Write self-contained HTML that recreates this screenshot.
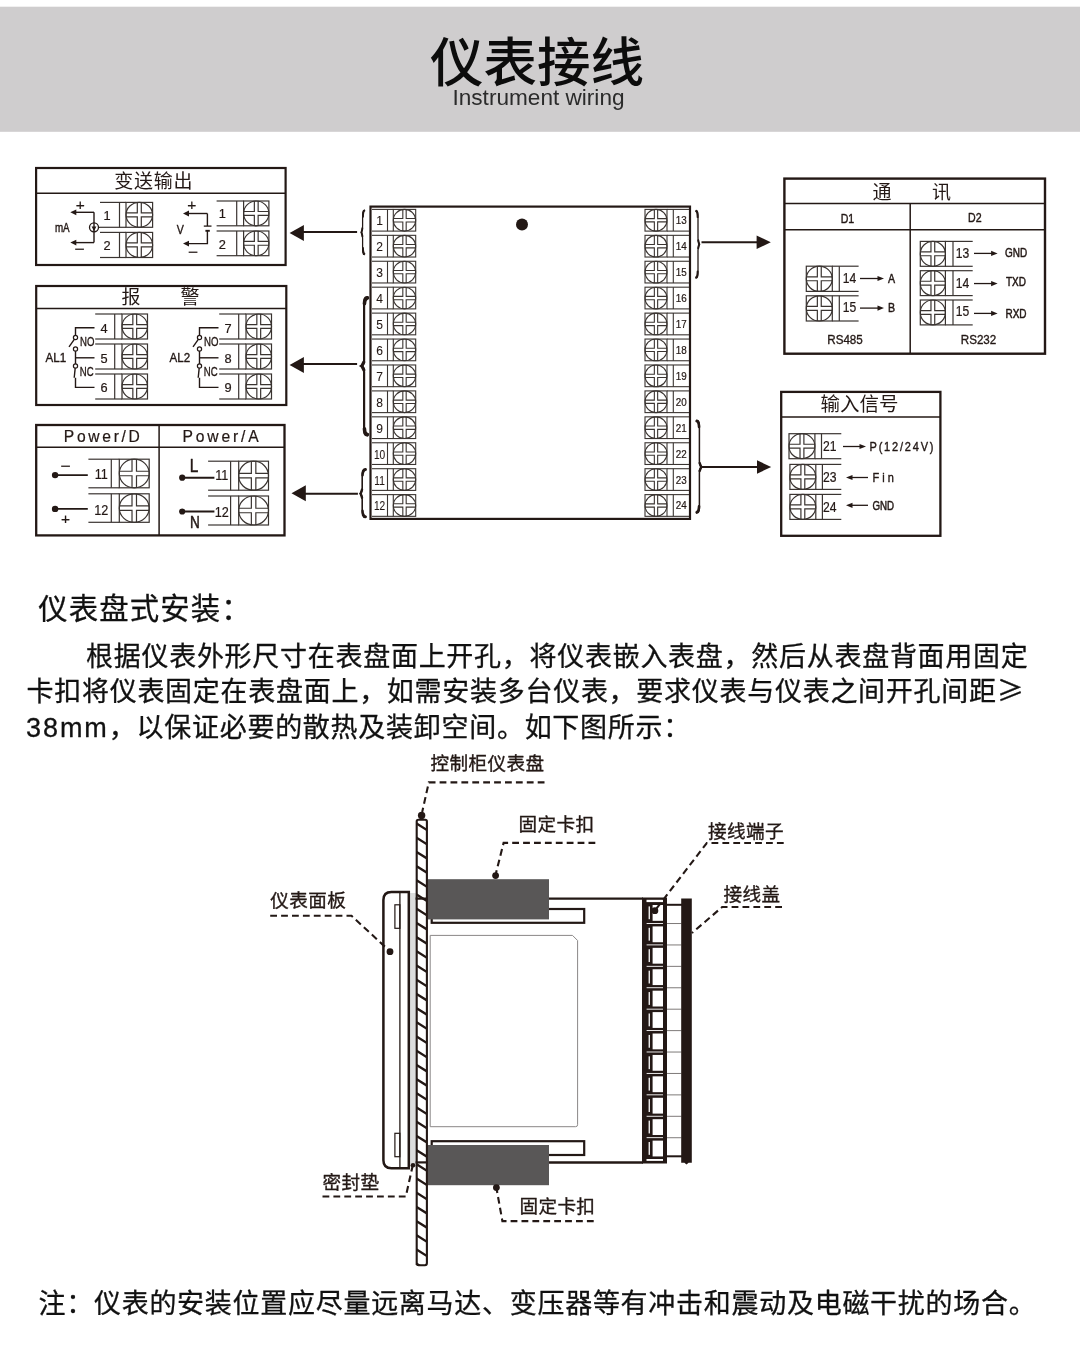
<!DOCTYPE html>
<html lang="zh-CN">
<head>
<meta charset="utf-8">
<title>仪表接线 Instrument wiring</title>
<style>
html,body{margin:0;padding:0;background:#fff;}
body{width:1080px;height:1346px;overflow:hidden;font-family:"Liberation Sans","Noto Sans CJK SC",sans-serif;}
svg{display:block;position:absolute;left:0;top:0;will-change:transform;}
text{white-space:pre;}
.ge{font-family:"Noto Sans CJK SC",sans-serif;}
</style>
</head>
<body>
<svg width="1080" height="1346" viewBox="0 0 1080 1346">
<rect x="0" y="6.7" width="1080" height="125.1" fill="#cfcdce"/>
<text x="537.00" y="82.00" font-size="53.5" text-anchor="middle" font-weight="500" fill="#0c0c0c" font-family='"Liberation Sans", "Noto Sans CJK SC", sans-serif' >仪表接线</text>
<text x="538.50" y="104.60" font-size="22.6" text-anchor="middle" font-weight="400" fill="#2b2b2b" font-family='"Liberation Sans", "Noto Sans CJK SC", sans-serif' >Instrument wiring</text>
<rect x="36.10" y="168.00" width="249.50" height="97.00" stroke="#231815" stroke-width="2.2" fill="none" />
<line x1="36.10" y1="193.20" x2="285.60" y2="193.20" stroke="#231815" stroke-width="1.5" />
<text x="153.80" y="188.00" font-size="19" text-anchor="middle" font-weight="400" fill="#231815" font-family='"Liberation Sans", "Noto Sans CJK SC", sans-serif' letter-spacing="0.8" >变送输出</text>
<line x1="100.00" y1="202.40" x2="126.00" y2="202.40" stroke="#3a3431" stroke-width="1.2" />
<line x1="100.00" y1="227.30" x2="126.00" y2="227.30" stroke="#3a3431" stroke-width="1.2" />
<line x1="119.50" y1="202.40" x2="119.50" y2="227.30" stroke="#3a3431" stroke-width="1.2" />
<rect x="126.00" y="202.40" width="26.60" height="24.90" stroke="#3a3431" stroke-width="1.2" fill="none" />
<ellipse cx="139.30" cy="214.85" rx="13.30" ry="12.45" stroke="#3a3431" stroke-width="1.2" fill="none"/>
<path d="M137.31,202.40V212.85H126.00 M141.30,202.40V212.85H152.60 M137.31,227.30V216.84H126.00 M141.30,227.30V216.84H152.60" stroke="#3a3431" stroke-width="1.2" fill="none" />
<line x1="100.00" y1="232.40" x2="126.00" y2="232.40" stroke="#3a3431" stroke-width="1.2" />
<line x1="100.00" y1="257.50" x2="126.00" y2="257.50" stroke="#3a3431" stroke-width="1.2" />
<line x1="119.50" y1="232.40" x2="119.50" y2="257.50" stroke="#3a3431" stroke-width="1.2" />
<rect x="126.00" y="232.40" width="26.60" height="25.10" stroke="#3a3431" stroke-width="1.2" fill="none" />
<ellipse cx="139.30" cy="244.95" rx="13.30" ry="12.55" stroke="#3a3431" stroke-width="1.2" fill="none"/>
<path d="M137.31,232.40V242.96H126.00 M141.30,232.40V242.96H152.60 M137.31,257.50V246.95H126.00 M141.30,257.50V246.95H152.60" stroke="#3a3431" stroke-width="1.2" fill="none" />
<text x="107.00" y="219.60" font-size="12.8" text-anchor="middle" font-weight="400" fill="#231815" font-family='"Liberation Sans", "Noto Sans CJK SC", sans-serif' stroke="#231815" stroke-width="0.22" stroke-linejoin="round" >1</text>
<text x="107.00" y="250.30" font-size="12.8" text-anchor="middle" font-weight="400" fill="#231815" font-family='"Liberation Sans", "Noto Sans CJK SC", sans-serif' stroke="#231815" stroke-width="0.22" stroke-linejoin="round" >2</text>
<line x1="98.50" y1="227.30" x2="100.00" y2="227.30" stroke="#3a3431" stroke-width="1.2" />
<circle cx="94.00" cy="227.30" r="4.50" stroke="#231815" stroke-width="1.3" fill="none"/>
<path d="M94,212.3V242.6" stroke="#231815" stroke-width="1.4" fill="none" />
<path d="M94,212.3H75" stroke="#231815" stroke-width="1.4" fill="none" />
<polygon points="70.30,212.30 76.30,209.40 76.30,215.20" fill="#231815"/>
<path d="M94,242.6H75" stroke="#231815" stroke-width="1.4" fill="none" />
<polygon points="70.30,242.60 76.30,239.70 76.30,245.50" fill="#231815"/>
<polygon points="94,231.2 91.6,226.6 96.4,226.6" fill="#231815"/>
<text x="80.40" y="209.50" font-size="15.5" text-anchor="middle" font-weight="400" fill="#231815" font-family='"Liberation Sans", "Noto Sans CJK SC", sans-serif' stroke="#231815" stroke-width="0.22" stroke-linejoin="round" >+</text>
<text x="79.60" y="255.40" font-size="18" text-anchor="middle" font-weight="400" fill="#231815" font-family='"Liberation Sans", "Noto Sans CJK SC", sans-serif' >−</text>
<text transform="translate(62.30,231.80) scale(0.82,1)" font-size="12" text-anchor="middle" font-weight="400" fill="#231815" font-family='"Liberation Sans", "Noto Sans CJK SC", sans-serif' stroke="#231815" stroke-width="0.4" stroke-linejoin="round" >mA</text>
<line x1="216.60" y1="201.00" x2="243.60" y2="201.00" stroke="#3a3431" stroke-width="1.2" />
<line x1="216.60" y1="225.80" x2="243.60" y2="225.80" stroke="#3a3431" stroke-width="1.2" />
<line x1="236.70" y1="201.00" x2="236.70" y2="225.80" stroke="#3a3431" stroke-width="1.2" />
<rect x="243.60" y="201.00" width="25.30" height="24.80" stroke="#3a3431" stroke-width="1.2" fill="none" />
<ellipse cx="256.25" cy="213.40" rx="12.65" ry="12.40" stroke="#3a3431" stroke-width="1.2" fill="none"/>
<path d="M254.35,201.00V211.50H243.60 M258.15,201.00V211.50H268.90 M254.35,225.80V215.30H243.60 M258.15,225.80V215.30H268.90" stroke="#3a3431" stroke-width="1.2" fill="none" />
<line x1="216.60" y1="231.00" x2="243.60" y2="231.00" stroke="#3a3431" stroke-width="1.2" />
<line x1="216.60" y1="255.70" x2="243.60" y2="255.70" stroke="#3a3431" stroke-width="1.2" />
<line x1="236.70" y1="231.00" x2="236.70" y2="255.70" stroke="#3a3431" stroke-width="1.2" />
<rect x="243.60" y="231.00" width="25.30" height="24.70" stroke="#3a3431" stroke-width="1.2" fill="none" />
<ellipse cx="256.25" cy="243.35" rx="12.65" ry="12.35" stroke="#3a3431" stroke-width="1.2" fill="none"/>
<path d="M254.35,231.00V241.45H243.60 M258.15,231.00V241.45H268.90 M254.35,255.70V245.25H243.60 M258.15,255.70V245.25H268.90" stroke="#3a3431" stroke-width="1.2" fill="none" />
<text x="222.30" y="217.80" font-size="12.8" text-anchor="middle" font-weight="400" fill="#231815" font-family='"Liberation Sans", "Noto Sans CJK SC", sans-serif' stroke="#231815" stroke-width="0.22" stroke-linejoin="round" >1</text>
<text x="222.30" y="248.90" font-size="12.8" text-anchor="middle" font-weight="400" fill="#231815" font-family='"Liberation Sans", "Noto Sans CJK SC", sans-serif' stroke="#231815" stroke-width="0.22" stroke-linejoin="round" >2</text>
<path d="M207.4,213.5V226" stroke="#231815" stroke-width="1.4" fill="none" />
<path d="M207.4,213.5H188" stroke="#231815" stroke-width="1.4" fill="none" />
<polygon points="183.00,213.50 189.00,210.60 189.00,216.40" fill="#231815"/>
<line x1="203.80" y1="226.10" x2="211.50" y2="226.10" stroke="#231815" stroke-width="1.3" />
<line x1="205.40" y1="230.80" x2="209.80" y2="230.80" stroke="#231815" stroke-width="1.9" />
<path d="M207.4,231V243.6H188" stroke="#231815" stroke-width="1.4" fill="none" />
<polygon points="183.00,243.60 189.00,240.70 189.00,246.50" fill="#231815"/>
<text x="191.80" y="210.30" font-size="15.5" text-anchor="middle" font-weight="400" fill="#231815" font-family='"Liberation Sans", "Noto Sans CJK SC", sans-serif' stroke="#231815" stroke-width="0.22" stroke-linejoin="round" >+</text>
<text x="193.00" y="257.80" font-size="18" text-anchor="middle" font-weight="400" fill="#231815" font-family='"Liberation Sans", "Noto Sans CJK SC", sans-serif' >−</text>
<text transform="translate(180.20,233.50) scale(0.85,1)" font-size="12.5" text-anchor="middle" font-weight="400" fill="#231815" font-family='"Liberation Sans", "Noto Sans CJK SC", sans-serif' stroke="#231815" stroke-width="0.4" stroke-linejoin="round" >V</text>
<rect x="36.20" y="286.00" width="250.10" height="119.00" stroke="#231815" stroke-width="2.2" fill="none" />
<line x1="36.20" y1="308.40" x2="286.30" y2="308.40" stroke="#231815" stroke-width="1.5" />
<text x="131.00" y="304.00" font-size="19" text-anchor="middle" font-weight="400" fill="#231815" font-family='"Liberation Sans", "Noto Sans CJK SC", sans-serif' >报</text>
<text x="190.00" y="304.00" font-size="19" text-anchor="middle" font-weight="400" fill="#231815" font-family='"Liberation Sans", "Noto Sans CJK SC", sans-serif' >警</text>
<line x1="95.20" y1="314.00" x2="122.00" y2="314.00" stroke="#3a3431" stroke-width="1.2" />
<line x1="95.20" y1="339.00" x2="122.00" y2="339.00" stroke="#3a3431" stroke-width="1.2" />
<line x1="114.70" y1="314.00" x2="114.70" y2="339.00" stroke="#3a3431" stroke-width="1.2" />
<rect x="122.00" y="314.00" width="25.50" height="25.00" stroke="#3a3431" stroke-width="1.2" fill="none" />
<ellipse cx="134.75" cy="326.50" rx="12.75" ry="12.50" stroke="#3a3431" stroke-width="1.2" fill="none"/>
<path d="M132.84,314.00V324.59H122.00 M136.66,314.00V324.59H147.50 M132.84,339.00V328.41H122.00 M136.66,339.00V328.41H147.50" stroke="#3a3431" stroke-width="1.2" fill="none" />
<line x1="95.20" y1="344.00" x2="122.00" y2="344.00" stroke="#3a3431" stroke-width="1.2" />
<line x1="95.20" y1="369.00" x2="122.00" y2="369.00" stroke="#3a3431" stroke-width="1.2" />
<line x1="114.70" y1="344.00" x2="114.70" y2="369.00" stroke="#3a3431" stroke-width="1.2" />
<rect x="122.00" y="344.00" width="25.50" height="25.00" stroke="#3a3431" stroke-width="1.2" fill="none" />
<ellipse cx="134.75" cy="356.50" rx="12.75" ry="12.50" stroke="#3a3431" stroke-width="1.2" fill="none"/>
<path d="M132.84,344.00V354.59H122.00 M136.66,344.00V354.59H147.50 M132.84,369.00V358.41H122.00 M136.66,369.00V358.41H147.50" stroke="#3a3431" stroke-width="1.2" fill="none" />
<line x1="95.20" y1="374.00" x2="122.00" y2="374.00" stroke="#3a3431" stroke-width="1.2" />
<line x1="95.20" y1="399.00" x2="122.00" y2="399.00" stroke="#3a3431" stroke-width="1.2" />
<line x1="114.70" y1="374.00" x2="114.70" y2="399.00" stroke="#3a3431" stroke-width="1.2" />
<rect x="122.00" y="374.00" width="25.50" height="25.00" stroke="#3a3431" stroke-width="1.2" fill="none" />
<ellipse cx="134.75" cy="386.50" rx="12.75" ry="12.50" stroke="#3a3431" stroke-width="1.2" fill="none"/>
<path d="M132.84,374.00V384.59H122.00 M136.66,374.00V384.59H147.50 M132.84,399.00V388.41H122.00 M136.66,399.00V388.41H147.50" stroke="#3a3431" stroke-width="1.2" fill="none" />
<text x="104.00" y="332.60" font-size="12.8" text-anchor="middle" font-weight="400" fill="#231815" font-family='"Liberation Sans", "Noto Sans CJK SC", sans-serif' stroke="#231815" stroke-width="0.22" stroke-linejoin="round" >4</text>
<text x="104.00" y="362.60" font-size="12.8" text-anchor="middle" font-weight="400" fill="#231815" font-family='"Liberation Sans", "Noto Sans CJK SC", sans-serif' stroke="#231815" stroke-width="0.22" stroke-linejoin="round" >5</text>
<text x="104.00" y="391.90" font-size="12.8" text-anchor="middle" font-weight="400" fill="#231815" font-family='"Liberation Sans", "Noto Sans CJK SC", sans-serif' stroke="#231815" stroke-width="0.22" stroke-linejoin="round" >6</text>
<path d="M94.5,327.8H75.5V335.4" stroke="#231815" stroke-width="1.4" fill="none" />
<circle cx="75.50" cy="337.50" r="2.10" stroke="#231815" stroke-width="1.2" fill="none"/>
<path d="M74.5,339.2L69,346.8" stroke="#231815" stroke-width="1.4" fill="none" />
<circle cx="75.50" cy="349.00" r="2.10" stroke="#231815" stroke-width="1.2" fill="none"/>
<path d="M75.5,351.1V363.9" stroke="#231815" stroke-width="1.4" fill="none" />
<path d="M75.5,357.8H94.5" stroke="#231815" stroke-width="1.4" fill="none" />
<circle cx="75.50" cy="366.00" r="2.10" stroke="#231815" stroke-width="1.2" fill="none"/>
<path d="M75.2,368.1L74.2,377.8" stroke="#231815" stroke-width="1.4" fill="none" />
<path d="M75.5,377.8V387.4H94.5" stroke="#231815" stroke-width="1.4" fill="none" />
<text transform="translate(87.20,345.60) scale(0.8,1)" font-size="12" text-anchor="middle" font-weight="400" fill="#231815" font-family='"Liberation Sans", "Noto Sans CJK SC", sans-serif' stroke="#231815" stroke-width="0.35" stroke-linejoin="round" >NO</text>
<text transform="translate(86.70,376.20) scale(0.8,1)" font-size="12" text-anchor="middle" font-weight="400" fill="#231815" font-family='"Liberation Sans", "Noto Sans CJK SC", sans-serif' stroke="#231815" stroke-width="0.35" stroke-linejoin="round" >NC</text>
<text transform="translate(55.80,361.80) scale(0.86,1)" font-size="13.5" text-anchor="middle" font-weight="400" fill="#231815" font-family='"Liberation Sans", "Noto Sans CJK SC", sans-serif' stroke="#231815" stroke-width="0.4" stroke-linejoin="round" >AL1</text>
<line x1="219.20" y1="314.00" x2="246.00" y2="314.00" stroke="#3a3431" stroke-width="1.2" />
<line x1="219.20" y1="339.00" x2="246.00" y2="339.00" stroke="#3a3431" stroke-width="1.2" />
<line x1="238.70" y1="314.00" x2="238.70" y2="339.00" stroke="#3a3431" stroke-width="1.2" />
<rect x="246.00" y="314.00" width="25.50" height="25.00" stroke="#3a3431" stroke-width="1.2" fill="none" />
<ellipse cx="258.75" cy="326.50" rx="12.75" ry="12.50" stroke="#3a3431" stroke-width="1.2" fill="none"/>
<path d="M256.84,314.00V324.59H246.00 M260.66,314.00V324.59H271.50 M256.84,339.00V328.41H246.00 M260.66,339.00V328.41H271.50" stroke="#3a3431" stroke-width="1.2" fill="none" />
<line x1="219.20" y1="344.00" x2="246.00" y2="344.00" stroke="#3a3431" stroke-width="1.2" />
<line x1="219.20" y1="369.00" x2="246.00" y2="369.00" stroke="#3a3431" stroke-width="1.2" />
<line x1="238.70" y1="344.00" x2="238.70" y2="369.00" stroke="#3a3431" stroke-width="1.2" />
<rect x="246.00" y="344.00" width="25.50" height="25.00" stroke="#3a3431" stroke-width="1.2" fill="none" />
<ellipse cx="258.75" cy="356.50" rx="12.75" ry="12.50" stroke="#3a3431" stroke-width="1.2" fill="none"/>
<path d="M256.84,344.00V354.59H246.00 M260.66,344.00V354.59H271.50 M256.84,369.00V358.41H246.00 M260.66,369.00V358.41H271.50" stroke="#3a3431" stroke-width="1.2" fill="none" />
<line x1="219.20" y1="374.00" x2="246.00" y2="374.00" stroke="#3a3431" stroke-width="1.2" />
<line x1="219.20" y1="399.00" x2="246.00" y2="399.00" stroke="#3a3431" stroke-width="1.2" />
<line x1="238.70" y1="374.00" x2="238.70" y2="399.00" stroke="#3a3431" stroke-width="1.2" />
<rect x="246.00" y="374.00" width="25.50" height="25.00" stroke="#3a3431" stroke-width="1.2" fill="none" />
<ellipse cx="258.75" cy="386.50" rx="12.75" ry="12.50" stroke="#3a3431" stroke-width="1.2" fill="none"/>
<path d="M256.84,374.00V384.59H246.00 M260.66,374.00V384.59H271.50 M256.84,399.00V388.41H246.00 M260.66,399.00V388.41H271.50" stroke="#3a3431" stroke-width="1.2" fill="none" />
<text x="228.00" y="332.60" font-size="12.8" text-anchor="middle" font-weight="400" fill="#231815" font-family='"Liberation Sans", "Noto Sans CJK SC", sans-serif' stroke="#231815" stroke-width="0.22" stroke-linejoin="round" >7</text>
<text x="228.00" y="362.60" font-size="12.8" text-anchor="middle" font-weight="400" fill="#231815" font-family='"Liberation Sans", "Noto Sans CJK SC", sans-serif' stroke="#231815" stroke-width="0.22" stroke-linejoin="round" >8</text>
<text x="228.00" y="391.90" font-size="12.8" text-anchor="middle" font-weight="400" fill="#231815" font-family='"Liberation Sans", "Noto Sans CJK SC", sans-serif' stroke="#231815" stroke-width="0.22" stroke-linejoin="round" >9</text>
<path d="M218.5,327.8H199.5V335.4" stroke="#231815" stroke-width="1.4" fill="none" />
<circle cx="199.50" cy="337.50" r="2.10" stroke="#231815" stroke-width="1.2" fill="none"/>
<path d="M198.5,339.2L193,346.8" stroke="#231815" stroke-width="1.4" fill="none" />
<circle cx="199.50" cy="349.00" r="2.10" stroke="#231815" stroke-width="1.2" fill="none"/>
<path d="M199.5,351.1V363.9" stroke="#231815" stroke-width="1.4" fill="none" />
<path d="M199.5,357.8H218.5" stroke="#231815" stroke-width="1.4" fill="none" />
<circle cx="199.50" cy="366.00" r="2.10" stroke="#231815" stroke-width="1.2" fill="none"/>
<path d="M199.2,368.1L198.2,377.8" stroke="#231815" stroke-width="1.4" fill="none" />
<path d="M199.5,377.8V387.4H218.5" stroke="#231815" stroke-width="1.4" fill="none" />
<text transform="translate(211.20,345.60) scale(0.8,1)" font-size="12" text-anchor="middle" font-weight="400" fill="#231815" font-family='"Liberation Sans", "Noto Sans CJK SC", sans-serif' stroke="#231815" stroke-width="0.35" stroke-linejoin="round" >NO</text>
<text transform="translate(210.70,376.20) scale(0.8,1)" font-size="12" text-anchor="middle" font-weight="400" fill="#231815" font-family='"Liberation Sans", "Noto Sans CJK SC", sans-serif' stroke="#231815" stroke-width="0.35" stroke-linejoin="round" >NC</text>
<text transform="translate(179.80,361.80) scale(0.86,1)" font-size="13.5" text-anchor="middle" font-weight="400" fill="#231815" font-family='"Liberation Sans", "Noto Sans CJK SC", sans-serif' stroke="#231815" stroke-width="0.4" stroke-linejoin="round" >AL2</text>
<rect x="36.20" y="425.00" width="248.30" height="110.40" stroke="#231815" stroke-width="2.3" fill="none" />
<line x1="36.20" y1="447.30" x2="284.50" y2="447.30" stroke="#231815" stroke-width="1.5" />
<line x1="159.10" y1="425.00" x2="159.10" y2="535.40" stroke="#231815" stroke-width="1.5" />
<text transform="translate(103.20,442.20) scale(0.95,1)" font-size="16.5" text-anchor="middle" font-weight="400" fill="#231815" font-family='"Liberation Sans", "Noto Sans CJK SC", sans-serif' stroke="#231815" stroke-width="0.22" stroke-linejoin="round" letter-spacing="2.8" >Power/D</text>
<text transform="translate(222.00,442.20) scale(0.95,1)" font-size="16.5" text-anchor="middle" font-weight="400" fill="#231815" font-family='"Liberation Sans", "Noto Sans CJK SC", sans-serif' stroke="#231815" stroke-width="0.22" stroke-linejoin="round" letter-spacing="3.0" >Power/A</text>
<line x1="88.40" y1="459.20" x2="119.30" y2="459.20" stroke="#3a3431" stroke-width="1.2" />
<line x1="88.40" y1="487.80" x2="119.30" y2="487.80" stroke="#3a3431" stroke-width="1.2" />
<line x1="111.30" y1="459.20" x2="111.30" y2="487.80" stroke="#3a3431" stroke-width="1.2" />
<rect x="119.30" y="459.20" width="29.90" height="28.60" stroke="#3a3431" stroke-width="1.2" fill="none" />
<ellipse cx="134.25" cy="473.50" rx="14.95" ry="14.30" stroke="#3a3431" stroke-width="1.2" fill="none"/>
<path d="M132.01,459.20V471.26H119.30 M136.49,459.20V471.26H149.20 M132.01,487.80V475.74H119.30 M136.49,487.80V475.74H149.20" stroke="#3a3431" stroke-width="1.2" fill="none" />
<line x1="88.40" y1="493.80" x2="119.30" y2="493.80" stroke="#3a3431" stroke-width="1.2" />
<line x1="88.40" y1="522.30" x2="119.30" y2="522.30" stroke="#3a3431" stroke-width="1.2" />
<line x1="111.30" y1="493.80" x2="111.30" y2="522.30" stroke="#3a3431" stroke-width="1.2" />
<rect x="119.30" y="493.80" width="29.90" height="28.50" stroke="#3a3431" stroke-width="1.2" fill="none" />
<ellipse cx="134.25" cy="508.05" rx="14.95" ry="14.25" stroke="#3a3431" stroke-width="1.2" fill="none"/>
<path d="M132.01,493.80V505.81H119.30 M136.49,493.80V505.81H149.20 M132.01,522.30V510.29H119.30 M136.49,522.30V510.29H149.20" stroke="#3a3431" stroke-width="1.2" fill="none" />
<text transform="translate(101.30,479.00) scale(0.88,1)" font-size="14.4" text-anchor="middle" font-weight="400" fill="#231815" font-family='"Liberation Sans", "Noto Sans CJK SC", sans-serif' stroke="#231815" stroke-width="0.22" stroke-linejoin="round" >11</text>
<text transform="translate(101.30,515.10) scale(0.88,1)" font-size="14.4" text-anchor="middle" font-weight="400" fill="#231815" font-family='"Liberation Sans", "Noto Sans CJK SC", sans-serif' stroke="#231815" stroke-width="0.22" stroke-linejoin="round" >12</text>
<circle cx="55.10" cy="475.10" r="3.20" stroke="#231815" stroke-width="0" fill="#231815"/>
<line x1="55.00" y1="475.10" x2="87.80" y2="475.10" stroke="#231815" stroke-width="1.9" />
<circle cx="55.10" cy="508.90" r="3.20" stroke="#231815" stroke-width="0" fill="#231815"/>
<line x1="55.00" y1="508.90" x2="87.80" y2="508.90" stroke="#231815" stroke-width="1.9" />
<text x="65.50" y="471.80" font-size="18" text-anchor="middle" font-weight="400" fill="#231815" font-family='"Liberation Sans", "Noto Sans CJK SC", sans-serif' >−</text>
<text x="65.50" y="523.90" font-size="15.5" text-anchor="middle" font-weight="400" fill="#231815" font-family='"Liberation Sans", "Noto Sans CJK SC", sans-serif' stroke="#231815" stroke-width="0.22" stroke-linejoin="round" >+</text>
<line x1="208.10" y1="461.20" x2="238.70" y2="461.20" stroke="#3a3431" stroke-width="1.2" />
<line x1="208.10" y1="490.20" x2="238.70" y2="490.20" stroke="#3a3431" stroke-width="1.2" />
<line x1="230.60" y1="461.20" x2="230.60" y2="490.20" stroke="#3a3431" stroke-width="1.2" />
<rect x="238.70" y="461.20" width="29.80" height="29.00" stroke="#3a3431" stroke-width="1.2" fill="none" />
<ellipse cx="253.60" cy="475.70" rx="14.90" ry="14.50" stroke="#3a3431" stroke-width="1.2" fill="none"/>
<path d="M251.36,461.20V473.46H238.70 M255.84,461.20V473.46H268.50 M251.36,490.20V477.94H238.70 M255.84,490.20V477.94H268.50" stroke="#3a3431" stroke-width="1.2" fill="none" />
<line x1="208.10" y1="496.00" x2="238.70" y2="496.00" stroke="#3a3431" stroke-width="1.2" />
<line x1="208.10" y1="525.00" x2="238.70" y2="525.00" stroke="#3a3431" stroke-width="1.2" />
<line x1="230.60" y1="496.00" x2="230.60" y2="525.00" stroke="#3a3431" stroke-width="1.2" />
<rect x="238.70" y="496.00" width="29.80" height="29.00" stroke="#3a3431" stroke-width="1.2" fill="none" />
<ellipse cx="253.60" cy="510.50" rx="14.90" ry="14.50" stroke="#3a3431" stroke-width="1.2" fill="none"/>
<path d="M251.36,496.00V508.26H238.70 M255.84,496.00V508.26H268.50 M251.36,525.00V512.74H238.70 M255.84,525.00V512.74H268.50" stroke="#3a3431" stroke-width="1.2" fill="none" />
<text transform="translate(221.80,480.20) scale(0.88,1)" font-size="14.4" text-anchor="middle" font-weight="400" fill="#231815" font-family='"Liberation Sans", "Noto Sans CJK SC", sans-serif' stroke="#231815" stroke-width="0.22" stroke-linejoin="round" >11</text>
<text transform="translate(221.80,517.40) scale(0.88,1)" font-size="14.4" text-anchor="middle" font-weight="400" fill="#231815" font-family='"Liberation Sans", "Noto Sans CJK SC", sans-serif' stroke="#231815" stroke-width="0.22" stroke-linejoin="round" >12</text>
<circle cx="182.20" cy="477.70" r="3.10" stroke="#231815" stroke-width="0" fill="#231815"/>
<line x1="182.00" y1="477.70" x2="214.40" y2="477.70" stroke="#231815" stroke-width="1.9" />
<circle cx="182.20" cy="511.50" r="3.10" stroke="#231815" stroke-width="0" fill="#231815"/>
<line x1="182.00" y1="511.50" x2="214.40" y2="511.50" stroke="#231815" stroke-width="1.9" />
<text transform="translate(194.00,472.30) scale(0.88,1)" font-size="17.5" text-anchor="middle" font-weight="400" fill="#231815" font-family='"Liberation Sans", "Noto Sans CJK SC", sans-serif' stroke="#231815" stroke-width="0.5" stroke-linejoin="round" >L</text>
<text transform="translate(195.00,527.60) scale(0.8,1)" font-size="17" text-anchor="middle" font-weight="400" fill="#231815" font-family='"Liberation Sans", "Noto Sans CJK SC", sans-serif' stroke="#231815" stroke-width="0.5" stroke-linejoin="round" >N</text>
<rect x="370.50" y="206.60" width="319.50" height="312.30" stroke="#231815" stroke-width="2.2" fill="none" />
<circle cx="522.00" cy="224.60" r="6.00" stroke="#231815" stroke-width="0" fill="#231815"/>
<line x1="372.00" y1="209.40" x2="393.30" y2="209.40" stroke="#3a3431" stroke-width="1.1" />
<line x1="372.00" y1="231.10" x2="393.30" y2="231.10" stroke="#3a3431" stroke-width="1.1" />
<line x1="387.50" y1="209.40" x2="387.50" y2="231.10" stroke="#3a3431" stroke-width="1.1" />
<rect x="393.30" y="209.40" width="22.40" height="21.70" stroke="#3a3431" stroke-width="1.1" fill="none" />
<ellipse cx="404.50" cy="220.25" rx="11.20" ry="10.85" stroke="#3a3431" stroke-width="1.1" fill="none"/>
<path d="M402.82,209.40V218.57H393.30 M406.18,209.40V218.57H415.70 M402.82,231.10V221.93H393.30 M406.18,231.10V221.93H415.70" stroke="#3a3431" stroke-width="1.1" fill="none" />
<text transform="translate(379.60,225.20) scale(0.9,1)" font-size="13.4" text-anchor="middle" font-weight="400" fill="#231815" font-family='"Liberation Sans", "Noto Sans CJK SC", sans-serif' stroke="#231815" stroke-width="0.1" stroke-linejoin="round" >1</text>
<line x1="667.00" y1="209.40" x2="689.00" y2="209.40" stroke="#3a3431" stroke-width="1.1" />
<line x1="667.00" y1="231.10" x2="689.00" y2="231.10" stroke="#3a3431" stroke-width="1.1" />
<line x1="673.30" y1="209.40" x2="673.30" y2="231.10" stroke="#3a3431" stroke-width="1.1" />
<rect x="645.00" y="209.40" width="22.00" height="21.70" stroke="#3a3431" stroke-width="1.1" fill="none" />
<ellipse cx="656.00" cy="220.25" rx="11.00" ry="10.85" stroke="#3a3431" stroke-width="1.1" fill="none"/>
<path d="M654.35,209.40V218.60H645.00 M657.65,209.40V218.60H667.00 M654.35,231.10V221.90H645.00 M657.65,231.10V221.90H667.00" stroke="#3a3431" stroke-width="1.1" fill="none" />
<text transform="translate(681.30,224.20) scale(0.88,1)" font-size="11.2" text-anchor="middle" font-weight="400" fill="#231815" font-family='"Liberation Sans", "Noto Sans CJK SC", sans-serif' stroke="#231815" stroke-width="0.22" stroke-linejoin="round" >13</text>
<line x1="372.00" y1="235.33" x2="393.30" y2="235.33" stroke="#3a3431" stroke-width="1.1" />
<line x1="372.00" y1="257.03" x2="393.30" y2="257.03" stroke="#3a3431" stroke-width="1.1" />
<line x1="387.50" y1="235.33" x2="387.50" y2="257.03" stroke="#3a3431" stroke-width="1.1" />
<rect x="393.30" y="235.33" width="22.40" height="21.70" stroke="#3a3431" stroke-width="1.1" fill="none" />
<ellipse cx="404.50" cy="246.18" rx="11.20" ry="10.85" stroke="#3a3431" stroke-width="1.1" fill="none"/>
<path d="M402.82,235.33V244.50H393.30 M406.18,235.33V244.50H415.70 M402.82,257.03V247.86H393.30 M406.18,257.03V247.86H415.70" stroke="#3a3431" stroke-width="1.1" fill="none" />
<text transform="translate(379.60,251.13) scale(0.9,1)" font-size="13.4" text-anchor="middle" font-weight="400" fill="#231815" font-family='"Liberation Sans", "Noto Sans CJK SC", sans-serif' stroke="#231815" stroke-width="0.1" stroke-linejoin="round" >2</text>
<line x1="667.00" y1="235.33" x2="689.00" y2="235.33" stroke="#3a3431" stroke-width="1.1" />
<line x1="667.00" y1="257.03" x2="689.00" y2="257.03" stroke="#3a3431" stroke-width="1.1" />
<line x1="673.30" y1="235.33" x2="673.30" y2="257.03" stroke="#3a3431" stroke-width="1.1" />
<rect x="645.00" y="235.33" width="22.00" height="21.70" stroke="#3a3431" stroke-width="1.1" fill="none" />
<ellipse cx="656.00" cy="246.18" rx="11.00" ry="10.85" stroke="#3a3431" stroke-width="1.1" fill="none"/>
<path d="M654.35,235.33V244.53H645.00 M657.65,235.33V244.53H667.00 M654.35,257.03V247.83H645.00 M657.65,257.03V247.83H667.00" stroke="#3a3431" stroke-width="1.1" fill="none" />
<text transform="translate(681.30,250.13) scale(0.88,1)" font-size="11.2" text-anchor="middle" font-weight="400" fill="#231815" font-family='"Liberation Sans", "Noto Sans CJK SC", sans-serif' stroke="#231815" stroke-width="0.22" stroke-linejoin="round" >14</text>
<line x1="372.00" y1="261.26" x2="393.30" y2="261.26" stroke="#3a3431" stroke-width="1.1" />
<line x1="372.00" y1="282.96" x2="393.30" y2="282.96" stroke="#3a3431" stroke-width="1.1" />
<line x1="387.50" y1="261.26" x2="387.50" y2="282.96" stroke="#3a3431" stroke-width="1.1" />
<rect x="393.30" y="261.26" width="22.40" height="21.70" stroke="#3a3431" stroke-width="1.1" fill="none" />
<ellipse cx="404.50" cy="272.11" rx="11.20" ry="10.85" stroke="#3a3431" stroke-width="1.1" fill="none"/>
<path d="M402.82,261.26V270.43H393.30 M406.18,261.26V270.43H415.70 M402.82,282.96V273.79H393.30 M406.18,282.96V273.79H415.70" stroke="#3a3431" stroke-width="1.1" fill="none" />
<text transform="translate(379.60,277.06) scale(0.9,1)" font-size="13.4" text-anchor="middle" font-weight="400" fill="#231815" font-family='"Liberation Sans", "Noto Sans CJK SC", sans-serif' stroke="#231815" stroke-width="0.1" stroke-linejoin="round" >3</text>
<line x1="667.00" y1="261.26" x2="689.00" y2="261.26" stroke="#3a3431" stroke-width="1.1" />
<line x1="667.00" y1="282.96" x2="689.00" y2="282.96" stroke="#3a3431" stroke-width="1.1" />
<line x1="673.30" y1="261.26" x2="673.30" y2="282.96" stroke="#3a3431" stroke-width="1.1" />
<rect x="645.00" y="261.26" width="22.00" height="21.70" stroke="#3a3431" stroke-width="1.1" fill="none" />
<ellipse cx="656.00" cy="272.11" rx="11.00" ry="10.85" stroke="#3a3431" stroke-width="1.1" fill="none"/>
<path d="M654.35,261.26V270.46H645.00 M657.65,261.26V270.46H667.00 M654.35,282.96V273.76H645.00 M657.65,282.96V273.76H667.00" stroke="#3a3431" stroke-width="1.1" fill="none" />
<text transform="translate(681.30,276.06) scale(0.88,1)" font-size="11.2" text-anchor="middle" font-weight="400" fill="#231815" font-family='"Liberation Sans", "Noto Sans CJK SC", sans-serif' stroke="#231815" stroke-width="0.22" stroke-linejoin="round" >15</text>
<line x1="372.00" y1="287.19" x2="393.30" y2="287.19" stroke="#3a3431" stroke-width="1.1" />
<line x1="372.00" y1="308.89" x2="393.30" y2="308.89" stroke="#3a3431" stroke-width="1.1" />
<line x1="387.50" y1="287.19" x2="387.50" y2="308.89" stroke="#3a3431" stroke-width="1.1" />
<rect x="393.30" y="287.19" width="22.40" height="21.70" stroke="#3a3431" stroke-width="1.1" fill="none" />
<ellipse cx="404.50" cy="298.04" rx="11.20" ry="10.85" stroke="#3a3431" stroke-width="1.1" fill="none"/>
<path d="M402.82,287.19V296.36H393.30 M406.18,287.19V296.36H415.70 M402.82,308.89V299.72H393.30 M406.18,308.89V299.72H415.70" stroke="#3a3431" stroke-width="1.1" fill="none" />
<text transform="translate(379.60,302.99) scale(0.9,1)" font-size="13.4" text-anchor="middle" font-weight="400" fill="#231815" font-family='"Liberation Sans", "Noto Sans CJK SC", sans-serif' stroke="#231815" stroke-width="0.1" stroke-linejoin="round" >4</text>
<line x1="667.00" y1="287.19" x2="689.00" y2="287.19" stroke="#3a3431" stroke-width="1.1" />
<line x1="667.00" y1="308.89" x2="689.00" y2="308.89" stroke="#3a3431" stroke-width="1.1" />
<line x1="673.30" y1="287.19" x2="673.30" y2="308.89" stroke="#3a3431" stroke-width="1.1" />
<rect x="645.00" y="287.19" width="22.00" height="21.70" stroke="#3a3431" stroke-width="1.1" fill="none" />
<ellipse cx="656.00" cy="298.04" rx="11.00" ry="10.85" stroke="#3a3431" stroke-width="1.1" fill="none"/>
<path d="M654.35,287.19V296.39H645.00 M657.65,287.19V296.39H667.00 M654.35,308.89V299.69H645.00 M657.65,308.89V299.69H667.00" stroke="#3a3431" stroke-width="1.1" fill="none" />
<text transform="translate(681.30,301.99) scale(0.88,1)" font-size="11.2" text-anchor="middle" font-weight="400" fill="#231815" font-family='"Liberation Sans", "Noto Sans CJK SC", sans-serif' stroke="#231815" stroke-width="0.22" stroke-linejoin="round" >16</text>
<line x1="372.00" y1="313.12" x2="393.30" y2="313.12" stroke="#3a3431" stroke-width="1.1" />
<line x1="372.00" y1="334.82" x2="393.30" y2="334.82" stroke="#3a3431" stroke-width="1.1" />
<line x1="387.50" y1="313.12" x2="387.50" y2="334.82" stroke="#3a3431" stroke-width="1.1" />
<rect x="393.30" y="313.12" width="22.40" height="21.70" stroke="#3a3431" stroke-width="1.1" fill="none" />
<ellipse cx="404.50" cy="323.97" rx="11.20" ry="10.85" stroke="#3a3431" stroke-width="1.1" fill="none"/>
<path d="M402.82,313.12V322.29H393.30 M406.18,313.12V322.29H415.70 M402.82,334.82V325.65H393.30 M406.18,334.82V325.65H415.70" stroke="#3a3431" stroke-width="1.1" fill="none" />
<text transform="translate(379.60,328.92) scale(0.9,1)" font-size="13.4" text-anchor="middle" font-weight="400" fill="#231815" font-family='"Liberation Sans", "Noto Sans CJK SC", sans-serif' stroke="#231815" stroke-width="0.1" stroke-linejoin="round" >5</text>
<line x1="667.00" y1="313.12" x2="689.00" y2="313.12" stroke="#3a3431" stroke-width="1.1" />
<line x1="667.00" y1="334.82" x2="689.00" y2="334.82" stroke="#3a3431" stroke-width="1.1" />
<line x1="673.30" y1="313.12" x2="673.30" y2="334.82" stroke="#3a3431" stroke-width="1.1" />
<rect x="645.00" y="313.12" width="22.00" height="21.70" stroke="#3a3431" stroke-width="1.1" fill="none" />
<ellipse cx="656.00" cy="323.97" rx="11.00" ry="10.85" stroke="#3a3431" stroke-width="1.1" fill="none"/>
<path d="M654.35,313.12V322.32H645.00 M657.65,313.12V322.32H667.00 M654.35,334.82V325.62H645.00 M657.65,334.82V325.62H667.00" stroke="#3a3431" stroke-width="1.1" fill="none" />
<text transform="translate(681.30,327.92) scale(0.88,1)" font-size="11.2" text-anchor="middle" font-weight="400" fill="#231815" font-family='"Liberation Sans", "Noto Sans CJK SC", sans-serif' stroke="#231815" stroke-width="0.22" stroke-linejoin="round" >17</text>
<line x1="372.00" y1="339.05" x2="393.30" y2="339.05" stroke="#3a3431" stroke-width="1.1" />
<line x1="372.00" y1="360.75" x2="393.30" y2="360.75" stroke="#3a3431" stroke-width="1.1" />
<line x1="387.50" y1="339.05" x2="387.50" y2="360.75" stroke="#3a3431" stroke-width="1.1" />
<rect x="393.30" y="339.05" width="22.40" height="21.70" stroke="#3a3431" stroke-width="1.1" fill="none" />
<ellipse cx="404.50" cy="349.90" rx="11.20" ry="10.85" stroke="#3a3431" stroke-width="1.1" fill="none"/>
<path d="M402.82,339.05V348.22H393.30 M406.18,339.05V348.22H415.70 M402.82,360.75V351.58H393.30 M406.18,360.75V351.58H415.70" stroke="#3a3431" stroke-width="1.1" fill="none" />
<text transform="translate(379.60,354.85) scale(0.9,1)" font-size="13.4" text-anchor="middle" font-weight="400" fill="#231815" font-family='"Liberation Sans", "Noto Sans CJK SC", sans-serif' stroke="#231815" stroke-width="0.1" stroke-linejoin="round" >6</text>
<line x1="667.00" y1="339.05" x2="689.00" y2="339.05" stroke="#3a3431" stroke-width="1.1" />
<line x1="667.00" y1="360.75" x2="689.00" y2="360.75" stroke="#3a3431" stroke-width="1.1" />
<line x1="673.30" y1="339.05" x2="673.30" y2="360.75" stroke="#3a3431" stroke-width="1.1" />
<rect x="645.00" y="339.05" width="22.00" height="21.70" stroke="#3a3431" stroke-width="1.1" fill="none" />
<ellipse cx="656.00" cy="349.90" rx="11.00" ry="10.85" stroke="#3a3431" stroke-width="1.1" fill="none"/>
<path d="M654.35,339.05V348.25H645.00 M657.65,339.05V348.25H667.00 M654.35,360.75V351.55H645.00 M657.65,360.75V351.55H667.00" stroke="#3a3431" stroke-width="1.1" fill="none" />
<text transform="translate(681.30,353.85) scale(0.88,1)" font-size="11.2" text-anchor="middle" font-weight="400" fill="#231815" font-family='"Liberation Sans", "Noto Sans CJK SC", sans-serif' stroke="#231815" stroke-width="0.22" stroke-linejoin="round" >18</text>
<line x1="372.00" y1="364.98" x2="393.30" y2="364.98" stroke="#3a3431" stroke-width="1.1" />
<line x1="372.00" y1="386.68" x2="393.30" y2="386.68" stroke="#3a3431" stroke-width="1.1" />
<line x1="387.50" y1="364.98" x2="387.50" y2="386.68" stroke="#3a3431" stroke-width="1.1" />
<rect x="393.30" y="364.98" width="22.40" height="21.70" stroke="#3a3431" stroke-width="1.1" fill="none" />
<ellipse cx="404.50" cy="375.83" rx="11.20" ry="10.85" stroke="#3a3431" stroke-width="1.1" fill="none"/>
<path d="M402.82,364.98V374.15H393.30 M406.18,364.98V374.15H415.70 M402.82,386.68V377.51H393.30 M406.18,386.68V377.51H415.70" stroke="#3a3431" stroke-width="1.1" fill="none" />
<text transform="translate(379.60,380.78) scale(0.9,1)" font-size="13.4" text-anchor="middle" font-weight="400" fill="#231815" font-family='"Liberation Sans", "Noto Sans CJK SC", sans-serif' stroke="#231815" stroke-width="0.1" stroke-linejoin="round" >7</text>
<line x1="667.00" y1="364.98" x2="689.00" y2="364.98" stroke="#3a3431" stroke-width="1.1" />
<line x1="667.00" y1="386.68" x2="689.00" y2="386.68" stroke="#3a3431" stroke-width="1.1" />
<line x1="673.30" y1="364.98" x2="673.30" y2="386.68" stroke="#3a3431" stroke-width="1.1" />
<rect x="645.00" y="364.98" width="22.00" height="21.70" stroke="#3a3431" stroke-width="1.1" fill="none" />
<ellipse cx="656.00" cy="375.83" rx="11.00" ry="10.85" stroke="#3a3431" stroke-width="1.1" fill="none"/>
<path d="M654.35,364.98V374.18H645.00 M657.65,364.98V374.18H667.00 M654.35,386.68V377.48H645.00 M657.65,386.68V377.48H667.00" stroke="#3a3431" stroke-width="1.1" fill="none" />
<text transform="translate(681.30,379.78) scale(0.88,1)" font-size="11.2" text-anchor="middle" font-weight="400" fill="#231815" font-family='"Liberation Sans", "Noto Sans CJK SC", sans-serif' stroke="#231815" stroke-width="0.22" stroke-linejoin="round" >19</text>
<line x1="372.00" y1="390.91" x2="393.30" y2="390.91" stroke="#3a3431" stroke-width="1.1" />
<line x1="372.00" y1="412.61" x2="393.30" y2="412.61" stroke="#3a3431" stroke-width="1.1" />
<line x1="387.50" y1="390.91" x2="387.50" y2="412.61" stroke="#3a3431" stroke-width="1.1" />
<rect x="393.30" y="390.91" width="22.40" height="21.70" stroke="#3a3431" stroke-width="1.1" fill="none" />
<ellipse cx="404.50" cy="401.76" rx="11.20" ry="10.85" stroke="#3a3431" stroke-width="1.1" fill="none"/>
<path d="M402.82,390.91V400.08H393.30 M406.18,390.91V400.08H415.70 M402.82,412.61V403.44H393.30 M406.18,412.61V403.44H415.70" stroke="#3a3431" stroke-width="1.1" fill="none" />
<text transform="translate(379.60,406.71) scale(0.9,1)" font-size="13.4" text-anchor="middle" font-weight="400" fill="#231815" font-family='"Liberation Sans", "Noto Sans CJK SC", sans-serif' stroke="#231815" stroke-width="0.1" stroke-linejoin="round" >8</text>
<line x1="667.00" y1="390.91" x2="689.00" y2="390.91" stroke="#3a3431" stroke-width="1.1" />
<line x1="667.00" y1="412.61" x2="689.00" y2="412.61" stroke="#3a3431" stroke-width="1.1" />
<line x1="673.30" y1="390.91" x2="673.30" y2="412.61" stroke="#3a3431" stroke-width="1.1" />
<rect x="645.00" y="390.91" width="22.00" height="21.70" stroke="#3a3431" stroke-width="1.1" fill="none" />
<ellipse cx="656.00" cy="401.76" rx="11.00" ry="10.85" stroke="#3a3431" stroke-width="1.1" fill="none"/>
<path d="M654.35,390.91V400.11H645.00 M657.65,390.91V400.11H667.00 M654.35,412.61V403.41H645.00 M657.65,412.61V403.41H667.00" stroke="#3a3431" stroke-width="1.1" fill="none" />
<text transform="translate(681.30,405.71) scale(0.88,1)" font-size="11.2" text-anchor="middle" font-weight="400" fill="#231815" font-family='"Liberation Sans", "Noto Sans CJK SC", sans-serif' stroke="#231815" stroke-width="0.22" stroke-linejoin="round" >20</text>
<line x1="372.00" y1="416.84" x2="393.30" y2="416.84" stroke="#3a3431" stroke-width="1.1" />
<line x1="372.00" y1="438.54" x2="393.30" y2="438.54" stroke="#3a3431" stroke-width="1.1" />
<line x1="387.50" y1="416.84" x2="387.50" y2="438.54" stroke="#3a3431" stroke-width="1.1" />
<rect x="393.30" y="416.84" width="22.40" height="21.70" stroke="#3a3431" stroke-width="1.1" fill="none" />
<ellipse cx="404.50" cy="427.69" rx="11.20" ry="10.85" stroke="#3a3431" stroke-width="1.1" fill="none"/>
<path d="M402.82,416.84V426.01H393.30 M406.18,416.84V426.01H415.70 M402.82,438.54V429.37H393.30 M406.18,438.54V429.37H415.70" stroke="#3a3431" stroke-width="1.1" fill="none" />
<text transform="translate(379.60,432.64) scale(0.9,1)" font-size="13.4" text-anchor="middle" font-weight="400" fill="#231815" font-family='"Liberation Sans", "Noto Sans CJK SC", sans-serif' stroke="#231815" stroke-width="0.1" stroke-linejoin="round" >9</text>
<line x1="667.00" y1="416.84" x2="689.00" y2="416.84" stroke="#3a3431" stroke-width="1.1" />
<line x1="667.00" y1="438.54" x2="689.00" y2="438.54" stroke="#3a3431" stroke-width="1.1" />
<line x1="673.30" y1="416.84" x2="673.30" y2="438.54" stroke="#3a3431" stroke-width="1.1" />
<rect x="645.00" y="416.84" width="22.00" height="21.70" stroke="#3a3431" stroke-width="1.1" fill="none" />
<ellipse cx="656.00" cy="427.69" rx="11.00" ry="10.85" stroke="#3a3431" stroke-width="1.1" fill="none"/>
<path d="M654.35,416.84V426.04H645.00 M657.65,416.84V426.04H667.00 M654.35,438.54V429.34H645.00 M657.65,438.54V429.34H667.00" stroke="#3a3431" stroke-width="1.1" fill="none" />
<text transform="translate(681.30,431.64) scale(0.88,1)" font-size="11.2" text-anchor="middle" font-weight="400" fill="#231815" font-family='"Liberation Sans", "Noto Sans CJK SC", sans-serif' stroke="#231815" stroke-width="0.22" stroke-linejoin="round" >21</text>
<line x1="372.00" y1="442.77" x2="393.30" y2="442.77" stroke="#3a3431" stroke-width="1.1" />
<line x1="372.00" y1="464.47" x2="393.30" y2="464.47" stroke="#3a3431" stroke-width="1.1" />
<line x1="387.50" y1="442.77" x2="387.50" y2="464.47" stroke="#3a3431" stroke-width="1.1" />
<rect x="393.30" y="442.77" width="22.40" height="21.70" stroke="#3a3431" stroke-width="1.1" fill="none" />
<ellipse cx="404.50" cy="453.62" rx="11.20" ry="10.85" stroke="#3a3431" stroke-width="1.1" fill="none"/>
<path d="M402.82,442.77V451.94H393.30 M406.18,442.77V451.94H415.70 M402.82,464.47V455.30H393.30 M406.18,464.47V455.30H415.70" stroke="#3a3431" stroke-width="1.1" fill="none" />
<text transform="translate(379.60,458.57) scale(0.76,1)" font-size="13.4" text-anchor="middle" font-weight="400" fill="#231815" font-family='"Liberation Sans", "Noto Sans CJK SC", sans-serif' stroke="#231815" stroke-width="0.1" stroke-linejoin="round" >10</text>
<line x1="667.00" y1="442.77" x2="689.00" y2="442.77" stroke="#3a3431" stroke-width="1.1" />
<line x1="667.00" y1="464.47" x2="689.00" y2="464.47" stroke="#3a3431" stroke-width="1.1" />
<line x1="673.30" y1="442.77" x2="673.30" y2="464.47" stroke="#3a3431" stroke-width="1.1" />
<rect x="645.00" y="442.77" width="22.00" height="21.70" stroke="#3a3431" stroke-width="1.1" fill="none" />
<ellipse cx="656.00" cy="453.62" rx="11.00" ry="10.85" stroke="#3a3431" stroke-width="1.1" fill="none"/>
<path d="M654.35,442.77V451.97H645.00 M657.65,442.77V451.97H667.00 M654.35,464.47V455.27H645.00 M657.65,464.47V455.27H667.00" stroke="#3a3431" stroke-width="1.1" fill="none" />
<text transform="translate(681.30,457.57) scale(0.88,1)" font-size="11.2" text-anchor="middle" font-weight="400" fill="#231815" font-family='"Liberation Sans", "Noto Sans CJK SC", sans-serif' stroke="#231815" stroke-width="0.22" stroke-linejoin="round" >22</text>
<line x1="372.00" y1="468.70" x2="393.30" y2="468.70" stroke="#3a3431" stroke-width="1.1" />
<line x1="372.00" y1="490.40" x2="393.30" y2="490.40" stroke="#3a3431" stroke-width="1.1" />
<line x1="387.50" y1="468.70" x2="387.50" y2="490.40" stroke="#3a3431" stroke-width="1.1" />
<rect x="393.30" y="468.70" width="22.40" height="21.70" stroke="#3a3431" stroke-width="1.1" fill="none" />
<ellipse cx="404.50" cy="479.55" rx="11.20" ry="10.85" stroke="#3a3431" stroke-width="1.1" fill="none"/>
<path d="M402.82,468.70V477.87H393.30 M406.18,468.70V477.87H415.70 M402.82,490.40V481.23H393.30 M406.18,490.40V481.23H415.70" stroke="#3a3431" stroke-width="1.1" fill="none" />
<text transform="translate(379.60,484.50) scale(0.76,1)" font-size="13.4" text-anchor="middle" font-weight="400" fill="#231815" font-family='"Liberation Sans", "Noto Sans CJK SC", sans-serif' stroke="#231815" stroke-width="0.1" stroke-linejoin="round" >11</text>
<line x1="667.00" y1="468.70" x2="689.00" y2="468.70" stroke="#3a3431" stroke-width="1.1" />
<line x1="667.00" y1="490.40" x2="689.00" y2="490.40" stroke="#3a3431" stroke-width="1.1" />
<line x1="673.30" y1="468.70" x2="673.30" y2="490.40" stroke="#3a3431" stroke-width="1.1" />
<rect x="645.00" y="468.70" width="22.00" height="21.70" stroke="#3a3431" stroke-width="1.1" fill="none" />
<ellipse cx="656.00" cy="479.55" rx="11.00" ry="10.85" stroke="#3a3431" stroke-width="1.1" fill="none"/>
<path d="M654.35,468.70V477.90H645.00 M657.65,468.70V477.90H667.00 M654.35,490.40V481.20H645.00 M657.65,490.40V481.20H667.00" stroke="#3a3431" stroke-width="1.1" fill="none" />
<text transform="translate(681.30,483.50) scale(0.88,1)" font-size="11.2" text-anchor="middle" font-weight="400" fill="#231815" font-family='"Liberation Sans", "Noto Sans CJK SC", sans-serif' stroke="#231815" stroke-width="0.22" stroke-linejoin="round" >23</text>
<line x1="372.00" y1="494.63" x2="393.30" y2="494.63" stroke="#3a3431" stroke-width="1.1" />
<line x1="372.00" y1="516.33" x2="393.30" y2="516.33" stroke="#3a3431" stroke-width="1.1" />
<line x1="387.50" y1="494.63" x2="387.50" y2="516.33" stroke="#3a3431" stroke-width="1.1" />
<rect x="393.30" y="494.63" width="22.40" height="21.70" stroke="#3a3431" stroke-width="1.1" fill="none" />
<ellipse cx="404.50" cy="505.48" rx="11.20" ry="10.85" stroke="#3a3431" stroke-width="1.1" fill="none"/>
<path d="M402.82,494.63V503.80H393.30 M406.18,494.63V503.80H415.70 M402.82,516.33V507.16H393.30 M406.18,516.33V507.16H415.70" stroke="#3a3431" stroke-width="1.1" fill="none" />
<text transform="translate(379.60,510.43) scale(0.76,1)" font-size="13.4" text-anchor="middle" font-weight="400" fill="#231815" font-family='"Liberation Sans", "Noto Sans CJK SC", sans-serif' stroke="#231815" stroke-width="0.1" stroke-linejoin="round" >12</text>
<line x1="667.00" y1="494.63" x2="689.00" y2="494.63" stroke="#3a3431" stroke-width="1.1" />
<line x1="667.00" y1="516.33" x2="689.00" y2="516.33" stroke="#3a3431" stroke-width="1.1" />
<line x1="673.30" y1="494.63" x2="673.30" y2="516.33" stroke="#3a3431" stroke-width="1.1" />
<rect x="645.00" y="494.63" width="22.00" height="21.70" stroke="#3a3431" stroke-width="1.1" fill="none" />
<ellipse cx="656.00" cy="505.48" rx="11.00" ry="10.85" stroke="#3a3431" stroke-width="1.1" fill="none"/>
<path d="M654.35,494.63V503.83H645.00 M657.65,494.63V503.83H667.00 M654.35,516.33V507.13H645.00 M657.65,516.33V507.13H667.00" stroke="#3a3431" stroke-width="1.1" fill="none" />
<text transform="translate(681.30,509.43) scale(0.88,1)" font-size="11.2" text-anchor="middle" font-weight="400" fill="#231815" font-family='"Liberation Sans", "Noto Sans CJK SC", sans-serif' stroke="#231815" stroke-width="0.22" stroke-linejoin="round" >24</text>
<path d="M364.30,210.00 C362.60,210.20 362.60,213.20 362.60,218.20 V226.30 C362.60,229.80 361.80,231.40 361.10,232.30 C361.80,233.20 362.60,234.80 362.60,238.30 V246.40 C362.60,251.40 362.60,254.40 364.30,254.60" stroke="#231815" stroke-width="1.25" fill="none" stroke-linecap="round"/>
<path d="M364.40,210.80 Q363.10,211.60 362.95,216.70 M364.40,253.80 Q363.10,253.00 362.95,247.90" stroke="#231815" stroke-width="1.9" fill="none" stroke-linecap="round"/>
<path d="M362.40,228.30 L361.60,232.30 L362.40,236.30" stroke="#231815" stroke-width="1.9" fill="none" stroke-linecap="round" stroke-linejoin="round"/>
<line x1="357.10" y1="231.90" x2="302.90" y2="231.90" stroke="#231815" stroke-width="2.0" />
<polygon points="289.60,232.90 303.90,224.90 303.90,240.90" fill="#231815"/>
<path d="M367.30,297.10 C364.10,297.30 364.10,300.30 364.10,305.30 V360.00 C364.10,363.50 363.30,365.10 361.30,366.00 C363.30,366.90 364.10,368.50 364.10,372.00 V427.20 C364.10,432.20 364.10,435.20 367.30,435.40" stroke="#231815" stroke-width="2.2" fill="none" stroke-linecap="round"/>
<path d="M367.40,297.90 Q364.60,298.70 364.45,303.80 M367.40,434.60 Q364.60,433.80 364.45,428.70" stroke="#231815" stroke-width="3.6" fill="none" stroke-linecap="round"/>
<path d="M363.90,362.00 L361.80,366.00 L363.90,370.00" stroke="#231815" stroke-width="3.1" fill="none" stroke-linecap="round" stroke-linejoin="round"/>
<line x1="357.10" y1="364.00" x2="302.90" y2="364.00" stroke="#231815" stroke-width="2.0" />
<polygon points="289.60,365.00 303.90,357.00 303.90,373.00" fill="#231815"/>
<path d="M365.60,468.70 C362.20,468.90 362.20,471.90 362.20,476.90 V487.70 C362.20,491.20 361.40,492.80 360.20,493.70 C361.40,494.60 362.20,496.20 362.20,499.70 V509.30 C362.20,514.30 362.20,517.30 365.60,517.50" stroke="#231815" stroke-width="1.6" fill="none" stroke-linecap="round"/>
<path d="M365.70,469.50 Q362.70,470.30 362.55,475.40 M365.70,516.70 Q362.70,515.90 362.55,510.80" stroke="#231815" stroke-width="2.4" fill="none" stroke-linecap="round"/>
<path d="M362.00,489.70 L360.70,493.70 L362.00,497.70" stroke="#231815" stroke-width="2.4" fill="none" stroke-linecap="round" stroke-linejoin="round"/>
<line x1="357.90" y1="493.75" x2="304.80" y2="493.75" stroke="#231815" stroke-width="2.0" />
<polygon points="291.50,493.30 305.80,485.30 305.80,501.30" fill="#231815"/>
<path d="M696.20,210.40 C698.00,210.60 698.00,213.60 698.00,218.60 V238.30 C698.00,241.80 698.80,243.40 699.60,244.30 C698.80,245.20 698.00,246.80 698.00,250.30 V270.00 C698.00,275.00 698.00,278.00 696.20,278.20" stroke="#231815" stroke-width="1.3" fill="none" stroke-linecap="round"/>
<path d="M696.10,211.20 Q697.50,212.00 697.65,217.10 M696.10,277.40 Q697.50,276.60 697.65,271.50" stroke="#231815" stroke-width="2.0" fill="none" stroke-linecap="round"/>
<path d="M698.20,240.30 L699.10,244.30 L698.20,248.30" stroke="#231815" stroke-width="2.0" fill="none" stroke-linecap="round" stroke-linejoin="round"/>
<line x1="701.50" y1="242.30" x2="757.60" y2="242.30" stroke="#231815" stroke-width="2.0" />
<polygon points="770.80,242.30 756.60,235.50 756.60,249.10" fill="#231815"/>
<path d="M696.80,420.20 C699.40,420.40 699.40,423.40 699.40,428.40 V461.00 C699.40,464.50 700.20,466.10 701.70,467.00 C700.20,467.90 699.40,469.50 699.40,473.00 V504.90 C699.40,509.90 699.40,512.90 696.80,513.10" stroke="#231815" stroke-width="1.5" fill="none" stroke-linecap="round"/>
<path d="M696.70,421.00 Q698.90,421.80 699.05,426.90 M696.70,512.30 Q698.90,511.50 699.05,506.40" stroke="#231815" stroke-width="2.6" fill="none" stroke-linecap="round"/>
<path d="M699.60,463.00 L701.20,467.00 L699.60,471.00" stroke="#231815" stroke-width="2.4" fill="none" stroke-linecap="round" stroke-linejoin="round"/>
<line x1="701.80" y1="467.00" x2="758.00" y2="467.00" stroke="#231815" stroke-width="2.0" />
<polygon points="771.20,467.00 757.00,460.30 757.00,473.70" fill="#231815"/>
<rect x="784.40" y="178.60" width="260.60" height="175.10" stroke="#231815" stroke-width="2.4" fill="none" />
<line x1="784.40" y1="203.60" x2="1045.00" y2="203.60" stroke="#231815" stroke-width="1.5" />
<line x1="784.40" y1="229.80" x2="1045.00" y2="229.80" stroke="#231815" stroke-width="1.5" />
<line x1="910.20" y1="203.60" x2="910.20" y2="353.70" stroke="#231815" stroke-width="1.5" />
<text x="882.00" y="198.50" font-size="19" text-anchor="middle" font-weight="400" fill="#231815" font-family='"Liberation Sans", "Noto Sans CJK SC", sans-serif' >通</text>
<text x="941.50" y="198.50" font-size="19" text-anchor="middle" font-weight="400" fill="#231815" font-family='"Liberation Sans", "Noto Sans CJK SC", sans-serif' >讯</text>
<text transform="translate(847.50,223.00) scale(0.78,1)" font-size="13.6" text-anchor="middle" font-weight="400" fill="#231815" font-family='"Liberation Sans", "Noto Sans CJK SC", sans-serif' stroke="#231815" stroke-width="0.45" stroke-linejoin="round" >D1</text>
<text transform="translate(974.80,221.80) scale(0.78,1)" font-size="13.6" text-anchor="middle" font-weight="400" fill="#231815" font-family='"Liberation Sans", "Noto Sans CJK SC", sans-serif' stroke="#231815" stroke-width="0.45" stroke-linejoin="round" >D2</text>
<line x1="832.30" y1="266.20" x2="858.60" y2="266.20" stroke="#3a3431" stroke-width="1.2" />
<line x1="832.30" y1="291.40" x2="858.60" y2="291.40" stroke="#3a3431" stroke-width="1.2" />
<line x1="839.30" y1="266.20" x2="839.30" y2="291.40" stroke="#3a3431" stroke-width="1.2" />
<rect x="806.30" y="266.20" width="26.00" height="25.20" stroke="#3a3431" stroke-width="1.2" fill="none" />
<ellipse cx="819.30" cy="278.80" rx="13.00" ry="12.60" stroke="#3a3431" stroke-width="1.2" fill="none"/>
<path d="M817.35,266.20V276.85H806.30 M821.25,266.20V276.85H832.30 M817.35,291.40V280.75H806.30 M821.25,291.40V280.75H832.30" stroke="#3a3431" stroke-width="1.2" fill="none" />
<text transform="translate(849.50,282.80) scale(0.88,1)" font-size="13.8" text-anchor="middle" font-weight="400" fill="#231815" font-family='"Liberation Sans", "Noto Sans CJK SC", sans-serif' stroke="#231815" stroke-width="0.22" stroke-linejoin="round" >14</text>
<line x1="860.00" y1="278.50" x2="880.00" y2="278.50" stroke="#231815" stroke-width="1.3" />
<polygon points="884.00,278.50 877.50,275.90 877.50,281.10" fill="#231815"/>
<text transform="translate(891.50,282.80) scale(0.85,1)" font-size="12.5" text-anchor="middle" font-weight="400" fill="#231815" font-family='"Liberation Sans", "Noto Sans CJK SC", sans-serif' stroke="#231815" stroke-width="0.5" stroke-linejoin="round" >A</text>
<line x1="832.30" y1="295.80" x2="858.60" y2="295.80" stroke="#3a3431" stroke-width="1.2" />
<line x1="832.30" y1="321.00" x2="858.60" y2="321.00" stroke="#3a3431" stroke-width="1.2" />
<line x1="839.30" y1="295.80" x2="839.30" y2="321.00" stroke="#3a3431" stroke-width="1.2" />
<rect x="806.30" y="295.80" width="26.00" height="25.20" stroke="#3a3431" stroke-width="1.2" fill="none" />
<ellipse cx="819.30" cy="308.40" rx="13.00" ry="12.60" stroke="#3a3431" stroke-width="1.2" fill="none"/>
<path d="M817.35,295.80V306.45H806.30 M821.25,295.80V306.45H832.30 M817.35,321.00V310.35H806.30 M821.25,321.00V310.35H832.30" stroke="#3a3431" stroke-width="1.2" fill="none" />
<text transform="translate(849.50,312.40) scale(0.88,1)" font-size="13.8" text-anchor="middle" font-weight="400" fill="#231815" font-family='"Liberation Sans", "Noto Sans CJK SC", sans-serif' stroke="#231815" stroke-width="0.22" stroke-linejoin="round" >15</text>
<line x1="860.00" y1="308.10" x2="880.00" y2="308.10" stroke="#231815" stroke-width="1.3" />
<polygon points="884.00,308.10 877.50,305.50 877.50,310.70" fill="#231815"/>
<text transform="translate(891.50,312.40) scale(0.85,1)" font-size="12.5" text-anchor="middle" font-weight="400" fill="#231815" font-family='"Liberation Sans", "Noto Sans CJK SC", sans-serif' stroke="#231815" stroke-width="0.5" stroke-linejoin="round" >B</text>
<text transform="translate(845.00,343.50) scale(0.93,1)" font-size="12.5" text-anchor="middle" font-weight="400" fill="#231815" font-family='"Liberation Sans", "Noto Sans CJK SC", sans-serif' stroke="#231815" stroke-width="0.35" stroke-linejoin="round" >RS485</text>
<line x1="945.40" y1="241.40" x2="972.70" y2="241.40" stroke="#3a3431" stroke-width="1.2" />
<line x1="945.40" y1="266.30" x2="972.70" y2="266.30" stroke="#3a3431" stroke-width="1.2" />
<line x1="953.00" y1="241.40" x2="953.00" y2="266.30" stroke="#3a3431" stroke-width="1.2" />
<rect x="920.30" y="241.40" width="25.10" height="24.90" stroke="#3a3431" stroke-width="1.2" fill="none" />
<ellipse cx="932.85" cy="253.85" rx="12.55" ry="12.45" stroke="#3a3431" stroke-width="1.2" fill="none"/>
<path d="M930.97,241.40V251.97H920.30 M934.73,241.40V251.97H945.40 M930.97,266.30V255.73H920.30 M934.73,266.30V255.73H945.40" stroke="#3a3431" stroke-width="1.2" fill="none" />
<text transform="translate(962.60,257.80) scale(0.88,1)" font-size="13.8" text-anchor="middle" font-weight="400" fill="#231815" font-family='"Liberation Sans", "Noto Sans CJK SC", sans-serif' stroke="#231815" stroke-width="0.22" stroke-linejoin="round" >13</text>
<line x1="974.00" y1="253.40" x2="993.60" y2="253.40" stroke="#231815" stroke-width="1.3" />
<polygon points="997.60,253.40 991.10,250.80 991.10,256.00" fill="#231815"/>
<text transform="translate(1016.00,256.50) scale(0.8,1)" font-size="12.5" text-anchor="middle" font-weight="400" fill="#231815" font-family='"Liberation Sans", "Noto Sans CJK SC", sans-serif' stroke="#231815" stroke-width="0.5" stroke-linejoin="round" >GND</text>
<line x1="945.40" y1="270.70" x2="972.70" y2="270.70" stroke="#3a3431" stroke-width="1.2" />
<line x1="945.40" y1="295.60" x2="972.70" y2="295.60" stroke="#3a3431" stroke-width="1.2" />
<line x1="953.00" y1="270.70" x2="953.00" y2="295.60" stroke="#3a3431" stroke-width="1.2" />
<rect x="920.30" y="270.70" width="25.10" height="24.90" stroke="#3a3431" stroke-width="1.2" fill="none" />
<ellipse cx="932.85" cy="283.15" rx="12.55" ry="12.45" stroke="#3a3431" stroke-width="1.2" fill="none"/>
<path d="M930.97,270.70V281.27H920.30 M934.73,270.70V281.27H945.40 M930.97,295.60V285.03H920.30 M934.73,295.60V285.03H945.40" stroke="#3a3431" stroke-width="1.2" fill="none" />
<text transform="translate(962.60,288.00) scale(0.88,1)" font-size="13.8" text-anchor="middle" font-weight="400" fill="#231815" font-family='"Liberation Sans", "Noto Sans CJK SC", sans-serif' stroke="#231815" stroke-width="0.22" stroke-linejoin="round" >14</text>
<line x1="974.00" y1="283.55" x2="993.60" y2="283.55" stroke="#231815" stroke-width="1.3" />
<polygon points="997.60,283.55 991.10,280.95 991.10,286.15" fill="#231815"/>
<text transform="translate(1016.00,285.50) scale(0.8,1)" font-size="12.5" text-anchor="middle" font-weight="400" fill="#231815" font-family='"Liberation Sans", "Noto Sans CJK SC", sans-serif' stroke="#231815" stroke-width="0.5" stroke-linejoin="round" >TXD</text>
<line x1="945.40" y1="300.00" x2="972.70" y2="300.00" stroke="#3a3431" stroke-width="1.2" />
<line x1="945.40" y1="324.90" x2="972.70" y2="324.90" stroke="#3a3431" stroke-width="1.2" />
<line x1="953.00" y1="300.00" x2="953.00" y2="324.90" stroke="#3a3431" stroke-width="1.2" />
<rect x="920.30" y="300.00" width="25.10" height="24.90" stroke="#3a3431" stroke-width="1.2" fill="none" />
<ellipse cx="932.85" cy="312.45" rx="12.55" ry="12.45" stroke="#3a3431" stroke-width="1.2" fill="none"/>
<path d="M930.97,300.00V310.57H920.30 M934.73,300.00V310.57H945.40 M930.97,324.90V314.33H920.30 M934.73,324.90V314.33H945.40" stroke="#3a3431" stroke-width="1.2" fill="none" />
<text transform="translate(962.60,315.60) scale(0.88,1)" font-size="13.8" text-anchor="middle" font-weight="400" fill="#231815" font-family='"Liberation Sans", "Noto Sans CJK SC", sans-serif' stroke="#231815" stroke-width="0.22" stroke-linejoin="round" >15</text>
<line x1="974.00" y1="313.40" x2="993.60" y2="313.40" stroke="#231815" stroke-width="1.3" />
<polygon points="997.60,313.40 991.10,310.80 991.10,316.00" fill="#231815"/>
<text transform="translate(1016.00,317.60) scale(0.8,1)" font-size="12.5" text-anchor="middle" font-weight="400" fill="#231815" font-family='"Liberation Sans", "Noto Sans CJK SC", sans-serif' stroke="#231815" stroke-width="0.5" stroke-linejoin="round" >RXD</text>
<text transform="translate(978.50,343.50) scale(0.93,1)" font-size="12.5" text-anchor="middle" font-weight="400" fill="#231815" font-family='"Liberation Sans", "Noto Sans CJK SC", sans-serif' stroke="#231815" stroke-width="0.35" stroke-linejoin="round" >RS232</text>
<rect x="781.20" y="391.90" width="159.20" height="143.90" stroke="#231815" stroke-width="2.3" fill="none" />
<line x1="781.20" y1="417.00" x2="940.40" y2="417.00" stroke="#231815" stroke-width="1.5" />
<text x="859.50" y="411.30" font-size="19.5" text-anchor="middle" font-weight="400" fill="#231815" font-family='"Liberation Sans", "Noto Sans CJK SC", sans-serif' >输入信号</text>
<line x1="814.90" y1="433.70" x2="841.30" y2="433.70" stroke="#3a3431" stroke-width="1.2" />
<line x1="814.90" y1="458.70" x2="841.30" y2="458.70" stroke="#3a3431" stroke-width="1.2" />
<line x1="821.50" y1="433.70" x2="821.50" y2="458.70" stroke="#3a3431" stroke-width="1.2" />
<rect x="789.00" y="433.70" width="25.90" height="25.00" stroke="#3a3431" stroke-width="1.2" fill="none" />
<ellipse cx="801.95" cy="446.20" rx="12.95" ry="12.50" stroke="#3a3431" stroke-width="1.2" fill="none"/>
<path d="M800.01,433.70V444.26H789.00 M803.89,433.70V444.26H814.90 M800.01,458.70V448.14H789.00 M803.89,458.70V448.14H814.90" stroke="#3a3431" stroke-width="1.2" fill="none" />
<text transform="translate(829.80,451.30) scale(0.88,1)" font-size="13.8" text-anchor="middle" font-weight="400" fill="#231815" font-family='"Liberation Sans", "Noto Sans CJK SC", sans-serif' stroke="#231815" stroke-width="0.22" stroke-linejoin="round" >21</text>
<line x1="815.80" y1="464.40" x2="841.30" y2="464.40" stroke="#3a3431" stroke-width="1.2" />
<line x1="815.80" y1="489.40" x2="841.30" y2="489.40" stroke="#3a3431" stroke-width="1.2" />
<line x1="822.40" y1="464.40" x2="822.40" y2="489.40" stroke="#3a3431" stroke-width="1.2" />
<rect x="789.90" y="464.40" width="25.90" height="25.00" stroke="#3a3431" stroke-width="1.2" fill="none" />
<ellipse cx="802.85" cy="476.90" rx="12.95" ry="12.50" stroke="#3a3431" stroke-width="1.2" fill="none"/>
<path d="M800.91,464.40V474.96H789.90 M804.79,464.40V474.96H815.80 M800.91,489.40V478.84H789.90 M804.79,489.40V478.84H815.80" stroke="#3a3431" stroke-width="1.2" fill="none" />
<text transform="translate(829.80,482.00) scale(0.88,1)" font-size="13.8" text-anchor="middle" font-weight="400" fill="#231815" font-family='"Liberation Sans", "Noto Sans CJK SC", sans-serif' stroke="#231815" stroke-width="0.22" stroke-linejoin="round" >23</text>
<line x1="815.80" y1="494.40" x2="841.30" y2="494.40" stroke="#3a3431" stroke-width="1.2" />
<line x1="815.80" y1="519.40" x2="841.30" y2="519.40" stroke="#3a3431" stroke-width="1.2" />
<line x1="822.40" y1="494.40" x2="822.40" y2="519.40" stroke="#3a3431" stroke-width="1.2" />
<rect x="789.90" y="494.40" width="25.90" height="25.00" stroke="#3a3431" stroke-width="1.2" fill="none" />
<ellipse cx="802.85" cy="506.90" rx="12.95" ry="12.50" stroke="#3a3431" stroke-width="1.2" fill="none"/>
<path d="M800.91,494.40V504.96H789.90 M804.79,494.40V504.96H815.80 M800.91,519.40V508.84H789.90 M804.79,519.40V508.84H815.80" stroke="#3a3431" stroke-width="1.2" fill="none" />
<text transform="translate(829.80,512.00) scale(0.88,1)" font-size="13.8" text-anchor="middle" font-weight="400" fill="#231815" font-family='"Liberation Sans", "Noto Sans CJK SC", sans-serif' stroke="#231815" stroke-width="0.22" stroke-linejoin="round" >24</text>
<line x1="843.00" y1="446.50" x2="862.00" y2="446.50" stroke="#231815" stroke-width="1.3" />
<polygon points="866.00,446.50 859.50,443.90 859.50,449.10" fill="#231815"/>
<text transform="translate(869.50,451.30) scale(0.88,1)" font-size="12.5" text-anchor="start" font-weight="400" fill="#231815" font-family='"Liberation Sans", "Noto Sans CJK SC", sans-serif' stroke="#231815" stroke-width="0.4" stroke-linejoin="round" letter-spacing="2.05" >P(12/24V)</text>
<line x1="850.00" y1="477.50" x2="868.00" y2="477.50" stroke="#231815" stroke-width="1.3" />
<polygon points="846.00,477.50 852.50,474.90 852.50,480.10" fill="#231815"/>
<text transform="translate(872.50,482.00) scale(0.88,1)" font-size="12.5" text-anchor="start" font-weight="400" fill="#231815" font-family='"Liberation Sans", "Noto Sans CJK SC", sans-serif' stroke="#231815" stroke-width="0.4" stroke-linejoin="round" letter-spacing="3.5" >Fin</text>
<line x1="850.00" y1="505.30" x2="868.00" y2="505.30" stroke="#231815" stroke-width="1.3" />
<polygon points="846.00,505.30 852.50,502.70 852.50,507.90" fill="#231815"/>
<text transform="translate(872.50,509.80) scale(0.78,1)" font-size="12.5" text-anchor="start" font-weight="400" fill="#231815" font-family='"Liberation Sans", "Noto Sans CJK SC", sans-serif' stroke="#231815" stroke-width="0.5" stroke-linejoin="round" >GND</text>
<text x="38.20" y="619.40" font-size="29.4" text-anchor="start" font-weight="400" fill="#111" font-family='"Liberation Sans", "Noto Sans CJK SC", sans-serif' stroke="#111" stroke-width="0.3" stroke-linejoin="round" letter-spacing="1.1" >仪表盘式安装：</text>
<text x="86.00" y="666.00" font-size="27" text-anchor="start" font-weight="400" fill="#111" font-family='"Liberation Sans", "Noto Sans CJK SC", sans-serif' stroke="#111" stroke-width="0.3" stroke-linejoin="round" letter-spacing="0.72" >根据仪表外形尺寸在表盘面上开孔，将仪表嵌入表盘，然后从表盘背面用固定</text>
<text x="26.50" y="701.00" font-size="27" text-anchor="start" font-weight="400" fill="#111" font-family='"Liberation Sans", "Noto Sans CJK SC", sans-serif' stroke="#111" stroke-width="0.3" stroke-linejoin="round" letter-spacing="0.72" >卡扣将仪表固定在表盘面上，如需安装多台仪表，要求仪表与仪表之间开孔间距<tspan class="ge">≥</tspan></text>
<text x="26.00" y="737.30" font-size="27" text-anchor="start" font-weight="400" fill="#111" font-family='"Liberation Sans", "Noto Sans CJK SC", sans-serif' stroke="#111" stroke-width="0.3" stroke-linejoin="round" letter-spacing="0.72" ><tspan letter-spacing="1.95">38mm</tspan>，以保证必要的散热及装卸空间。如下图所示：</text>
<text x="38.50" y="1312.70" font-size="27" text-anchor="start" font-weight="400" fill="#111" font-family='"Liberation Sans", "Noto Sans CJK SC", sans-serif' stroke="#111" stroke-width="0.3" stroke-linejoin="round" letter-spacing="0.72" >注：仪表的安装位置应尽量远离马达、变压器等有冲击和震动及电磁干扰的场合。</text>
<rect x="409" y="893" width="7.5" height="274" fill="#dcdddd"/>
<path d="M408.8,892H391.4Q383.4,892 383.4,900V1160.3Q383.4,1168.3 391.4,1168.3H408.8Z" stroke="#231815" stroke-width="2.5" fill="#fff" />
<line x1="399.90" y1="893.00" x2="399.90" y2="1167.00" stroke="#231815" stroke-width="1.3" />
<rect x="394.90" y="904.80" width="5.00" height="23.50" stroke="#231815" stroke-width="1.2" fill="none" />
<rect x="394.90" y="1133.30" width="5.00" height="23.40" stroke="#231815" stroke-width="1.2" fill="none" />
<line x1="548.00" y1="898.60" x2="643.00" y2="898.60" stroke="#231815" stroke-width="2.3" />
<line x1="548.00" y1="1162.50" x2="643.00" y2="1162.50" stroke="#231815" stroke-width="2.3" />
<rect x="431.70" y="909.00" width="152.50" height="13.80" stroke="#231815" stroke-width="2.2" fill="#fff" />
<rect x="431.70" y="1141.20" width="152.50" height="13.80" stroke="#231815" stroke-width="2.2" fill="#fff" />
<rect x="427.4" y="879.2" width="121.6" height="40.2" fill="#595757"/>
<rect x="427.4" y="1145" width="121.6" height="40.2" fill="#595757"/>
<path d="M430.2,935.4H572.5L577.6,940.5V1124.7Q577.6,1126.7 575.6,1126.7H430.2Z" stroke="#8a8787" stroke-width="1" fill="none" />
<defs><clipPath id="pc"><path d="M416.7,1265V821.5Q416.7,819.8 418.4,819.8H425.2Q426.9,819.8 426.9,821.5V1263Q426.9,1265.2 424.9,1265.2H418.7Q416.7,1265.2 416.7,1263Z"/></clipPath></defs>
<path d="M416.7,1265V821.5Q416.7,819.8 418.4,819.8H425.2Q426.9,819.8 426.9,821.5V1263Q426.9,1265.2 424.9,1265.2H418.7Q416.7,1265.2 416.7,1263Z" fill="#fff" stroke="none"/>
<path d="M416.2,809.10L427.4,816.10 M416.2,823.30L427.4,830.30 M416.2,837.50L427.4,844.50 M416.2,851.70L427.4,858.70 M416.2,865.90L427.4,872.90 M416.2,880.10L427.4,887.10 M416.2,894.30L427.4,901.30 M416.2,908.50L427.4,915.50 M416.2,922.70L427.4,929.70 M416.2,936.90L427.4,943.90 M416.2,951.10L427.4,958.10 M416.2,965.30L427.4,972.30 M416.2,979.50L427.4,986.50 M416.2,993.70L427.4,1000.70 M416.2,1007.90L427.4,1014.90 M416.2,1022.10L427.4,1029.10 M416.2,1036.30L427.4,1043.30 M416.2,1050.50L427.4,1057.50 M416.2,1064.70L427.4,1071.70 M416.2,1078.90L427.4,1085.90 M416.2,1093.10L427.4,1100.10 M416.2,1107.30L427.4,1114.30 M416.2,1121.50L427.4,1128.50 M416.2,1135.70L427.4,1142.70 M416.2,1149.90L427.4,1156.90 M416.2,1164.10L427.4,1171.10 M416.2,1178.30L427.4,1185.30 M416.2,1192.50L427.4,1199.50 M416.2,1206.70L427.4,1213.70 M416.2,1220.90L427.4,1227.90 M416.2,1235.10L427.4,1242.10 M416.2,1249.30L427.4,1256.30 M416.2,1263.50L427.4,1270.50" stroke="#231815" stroke-width="2.3" fill="none" clip-path="url(#pc)"/>
<path d="M416.7,1265V821.5Q416.7,819.8 418.4,819.8H425.2Q426.9,819.8 426.9,821.5V1263Q426.9,1265.2 424.9,1265.2H418.7Q416.7,1265.2 416.7,1263Z" fill="none" stroke="#231815" stroke-width="2.1"/>
<line x1="415.60" y1="898.60" x2="427.60" y2="898.60" stroke="#231815" stroke-width="2.2" />
<line x1="415.60" y1="1162.40" x2="427.60" y2="1162.40" stroke="#231815" stroke-width="2.2" />
<rect x="642" y="897.5" width="25" height="266" fill="#231815"/>
<rect x="646.5" y="899.8" width="16.5" height="2.3" fill="#fff"/>
<rect x="646.5" y="1159" width="16.5" height="1.9" fill="#fff"/>
<rect x="652.6" y="905.00" width="10.4" height="15.82" fill="#fff"/>
<rect x="648.6" y="906.40" width="1.3" height="12.82" fill="#fff"/>
<rect x="646.6" y="923.02" width="16.4" height="0.9" fill="#fff"/>
<line x1="667.00" y1="923.52" x2="681.50" y2="923.52" stroke="#6f6b6a" stroke-width="0.9" />
<rect x="652.6" y="926.42" width="10.4" height="15.82" fill="#fff"/>
<rect x="648.6" y="927.82" width="1.3" height="12.82" fill="#fff"/>
<rect x="646.6" y="944.44" width="16.4" height="0.9" fill="#fff"/>
<line x1="667.00" y1="944.94" x2="681.50" y2="944.94" stroke="#6f6b6a" stroke-width="0.9" />
<rect x="652.6" y="947.84" width="10.4" height="15.82" fill="#fff"/>
<rect x="648.6" y="949.24" width="1.3" height="12.82" fill="#fff"/>
<rect x="646.6" y="965.86" width="16.4" height="0.9" fill="#fff"/>
<line x1="667.00" y1="966.36" x2="681.50" y2="966.36" stroke="#6f6b6a" stroke-width="0.9" />
<rect x="652.6" y="969.26" width="10.4" height="15.82" fill="#fff"/>
<rect x="648.6" y="970.66" width="1.3" height="12.82" fill="#fff"/>
<rect x="646.6" y="987.28" width="16.4" height="0.9" fill="#fff"/>
<line x1="667.00" y1="987.78" x2="681.50" y2="987.78" stroke="#6f6b6a" stroke-width="0.9" />
<rect x="652.6" y="990.68" width="10.4" height="15.82" fill="#fff"/>
<rect x="648.6" y="992.08" width="1.3" height="12.82" fill="#fff"/>
<rect x="646.6" y="1008.70" width="16.4" height="0.9" fill="#fff"/>
<line x1="667.00" y1="1009.20" x2="681.50" y2="1009.20" stroke="#6f6b6a" stroke-width="0.9" />
<rect x="652.6" y="1012.10" width="10.4" height="15.82" fill="#fff"/>
<rect x="648.6" y="1013.50" width="1.3" height="12.82" fill="#fff"/>
<rect x="646.6" y="1030.12" width="16.4" height="0.9" fill="#fff"/>
<line x1="667.00" y1="1030.62" x2="681.50" y2="1030.62" stroke="#6f6b6a" stroke-width="0.9" />
<rect x="652.6" y="1033.52" width="10.4" height="15.82" fill="#fff"/>
<rect x="648.6" y="1034.92" width="1.3" height="12.82" fill="#fff"/>
<rect x="646.6" y="1051.54" width="16.4" height="0.9" fill="#fff"/>
<line x1="667.00" y1="1052.04" x2="681.50" y2="1052.04" stroke="#6f6b6a" stroke-width="0.9" />
<rect x="652.6" y="1054.94" width="10.4" height="15.82" fill="#fff"/>
<rect x="648.6" y="1056.34" width="1.3" height="12.82" fill="#fff"/>
<rect x="646.6" y="1072.96" width="16.4" height="0.9" fill="#fff"/>
<line x1="667.00" y1="1073.46" x2="681.50" y2="1073.46" stroke="#6f6b6a" stroke-width="0.9" />
<rect x="652.6" y="1076.36" width="10.4" height="15.82" fill="#fff"/>
<rect x="648.6" y="1077.76" width="1.3" height="12.82" fill="#fff"/>
<rect x="646.6" y="1094.38" width="16.4" height="0.9" fill="#fff"/>
<line x1="667.00" y1="1094.88" x2="681.50" y2="1094.88" stroke="#6f6b6a" stroke-width="0.9" />
<rect x="652.6" y="1097.78" width="10.4" height="15.82" fill="#fff"/>
<rect x="648.6" y="1099.18" width="1.3" height="12.82" fill="#fff"/>
<rect x="646.6" y="1115.80" width="16.4" height="0.9" fill="#fff"/>
<line x1="667.00" y1="1116.30" x2="681.50" y2="1116.30" stroke="#6f6b6a" stroke-width="0.9" />
<rect x="652.6" y="1119.20" width="10.4" height="15.82" fill="#fff"/>
<rect x="648.6" y="1120.60" width="1.3" height="12.82" fill="#fff"/>
<rect x="646.6" y="1137.22" width="16.4" height="0.9" fill="#fff"/>
<line x1="667.00" y1="1137.72" x2="681.50" y2="1137.72" stroke="#6f6b6a" stroke-width="0.9" />
<rect x="652.6" y="1140.62" width="10.4" height="15.82" fill="#fff"/>
<rect x="648.6" y="1142.02" width="1.3" height="12.82" fill="#fff"/>
<line x1="666.00" y1="904.80" x2="682.00" y2="904.80" stroke="#231815" stroke-width="2" />
<line x1="666.00" y1="1156.30" x2="682.00" y2="1156.30" stroke="#231815" stroke-width="2" />
<path d="M681.2,898.4H691.8V1162.8H688.6L686.5,1164.6L684.4,1162.8H681.2Z" fill="#231815"/>
<text x="430.50" y="769.80" font-size="18.6" text-anchor="start" font-weight="400" fill="#231815" font-family='"Liberation Sans", "Noto Sans CJK SC", sans-serif' stroke="#231815" stroke-width="0.35" stroke-linejoin="round" letter-spacing="0.4" >控制柜仪表盘</text>
<path d="M544.5,782.4H428.8L422.2,812" stroke="#231815" stroke-width="2.1" fill="none" stroke-dasharray="6.8 4.1"/>
<circle cx="421.60" cy="815.40" r="3.70" stroke="#231815" stroke-width="0" fill="#231815"/>
<text x="518.60" y="830.70" font-size="18.6" text-anchor="start" font-weight="400" fill="#231815" font-family='"Liberation Sans", "Noto Sans CJK SC", sans-serif' stroke="#231815" stroke-width="0.35" stroke-linejoin="round" letter-spacing="0.4" >固定卡扣</text>
<path d="M595.3,842.9H503.6L496,873" stroke="#231815" stroke-width="2.1" fill="none" stroke-dasharray="6.8 4.1"/>
<circle cx="495.60" cy="875.60" r="3.40" stroke="#231815" stroke-width="0" fill="#231815"/>
<text x="708.00" y="837.50" font-size="18.6" text-anchor="start" font-weight="400" fill="#231815" font-family='"Liberation Sans", "Noto Sans CJK SC", sans-serif' stroke="#231815" stroke-width="0.35" stroke-linejoin="round" letter-spacing="0.4" >接线端子</text>
<path d="M783.7,843H706.8L656.5,908.5" stroke="#231815" stroke-width="2.1" fill="none" stroke-dasharray="6.8 4.1"/>
<circle cx="654.90" cy="910.70" r="3.40" stroke="#231815" stroke-width="0" fill="#231815"/>
<text x="723.40" y="900.60" font-size="18.6" text-anchor="start" font-weight="400" fill="#231815" font-family='"Liberation Sans", "Noto Sans CJK SC", sans-serif' stroke="#231815" stroke-width="0.35" stroke-linejoin="round" letter-spacing="0.4" >接线盖</text>
<path d="M782,907H722.2L692,933" stroke="#231815" stroke-width="2.1" fill="none" stroke-dasharray="6.8 4.1"/>
<text x="270.20" y="907.00" font-size="18.6" text-anchor="start" font-weight="400" fill="#231815" font-family='"Liberation Sans", "Noto Sans CJK SC", sans-serif' stroke="#231815" stroke-width="0.35" stroke-linejoin="round" letter-spacing="0.4" >仪表面板</text>
<path d="M270.2,915.8H351.5L388.5,950" stroke="#231815" stroke-width="2.1" fill="none" stroke-dasharray="6.8 4.1"/>
<circle cx="390.00" cy="951.70" r="3.40" stroke="#231815" stroke-width="0" fill="#231815"/>
<text x="322.50" y="1188.50" font-size="18.6" text-anchor="start" font-weight="400" fill="#231815" font-family='"Liberation Sans", "Noto Sans CJK SC", sans-serif' stroke="#231815" stroke-width="0.35" stroke-linejoin="round" letter-spacing="0.4" >密封垫</text>
<path d="M322.5,1196.5H405.8L412.6,1166" stroke="#231815" stroke-width="2.1" fill="none" stroke-dasharray="6.8 4.1"/>
<circle cx="413.00" cy="1165.20" r="2.30" stroke="#231815" stroke-width="0" fill="#231815"/>
<text x="519.40" y="1213.30" font-size="18.6" text-anchor="start" font-weight="400" fill="#231815" font-family='"Liberation Sans", "Noto Sans CJK SC", sans-serif' stroke="#231815" stroke-width="0.35" stroke-linejoin="round" letter-spacing="0.4" >固定卡扣</text>
<path d="M593.7,1221.1H502.4L496.8,1190" stroke="#231815" stroke-width="2.1" fill="none" stroke-dasharray="6.8 4.1"/>
<circle cx="496.40" cy="1187.60" r="3.40" stroke="#231815" stroke-width="0" fill="#231815"/>
</svg>
</body>
</html>
